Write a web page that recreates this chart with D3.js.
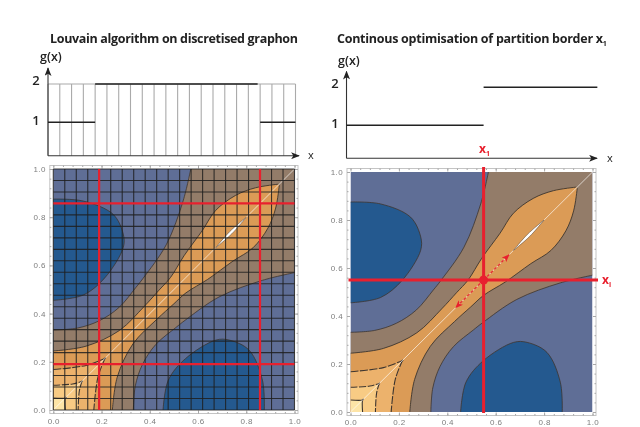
<!DOCTYPE html>
<html>
<head>
<meta charset="utf-8">
<script src="https://cdn.jsdelivr.net/npm/d3@7"></script>
<style>
html, body { margin: 0; padding: 0; background: #fff; }
svg { display: block; filter: blur(0.35px); }
text { font-family: "Open Sans", sans-serif; }
</style>
</head>
<body>
<div id="chart"></div>
<script>
// contour lines, upper half only, the lower half is the mirror image
var blobLine = [[0,0.875],[0.124,0.867],[0.248,0.812],[0.29,0.73],[0.29,0.674],[0.214,0.549],[0.124,0.477],[0,0.455]];
var brownLine = [[0,0.332],[0.1,0.34],[0.19,0.37],[0.272,0.425],[0.342,0.508],[0.372,0.546],[0.469,0.687],[0.538,0.867],[0.57,1]];
var orangeLine = [[0,0.245],[0.136,0.265],[0.274,0.33],[0.377,0.43],[0.438,0.497],[0.486,0.55],[0.542,0.64],[0.618,0.745],[0.673,0.828],[0.755,0.89],[0.838,0.922],[0.933,0.937]];
var level3Line = [[0,0.168],[0.136,0.185],[0.218,0.216]];
var level4Line = [[0,0.103],[0.08,0.108],[0.122,0.12]];
var level5Line = [[0,0.05],[0.05,0.05],[0.054,0.054]];
var lensLine = [[0.673,0.673],[0.731,0.74],[0.8,0.8]];

var bandColors = ["#5f6e96", "#24598f", "#937c69", "#db9b56", "#ecb26c", "#f8cb84", "#fde4a6"];

var gridCells = d3.range(0, 22);
var leftBorders = [0.19, 0.857];
var rightBorder = 0.55;
var arrowEnds = [0.655, 0.435];

var gLeftCells = [4, 18, 21];
var gLeftValues = [1, 2, 1];
var gRightEnds = [0.55, 1.02];
var gRightValues = [1, 2];
var gTicks = [1, 2];
var majorTicks = [0, 0.2, 0.4, 0.6, 0.8, 1];
var minorTicks = d3.range(0, 26).map(function (i) { return i / 25; });

var svg = d3.select("#chart").append("svg").attr("width", 640).attr("height", 427);

var defs = svg.append("defs");
defs.append("marker").attr("id", "blackHead").attr("viewBox", "0 0 10 8").attr("refX", 9).attr("refY", 4)
.attr("markerUnits", "userSpaceOnUse").attr("markerWidth", 9).attr("markerHeight", 7).attr("orient", "auto")
.append("path").attr("d", "M0,0L10,4L0,8L2.5,4Z").attr("fill", "#222");
defs.append("marker").attr("id", "redHead").attr("viewBox", "0 0 10 8").attr("refX", 9).attr("refY", 4)
.attr("markerUnits", "userSpaceOnUse").attr("markerWidth", 8).attr("markerHeight", 7).attr("orient", "auto")
.append("path").attr("d", "M0,0L10,4L0,8L2.5,4Z").attr("fill", "#e8202e");

function mirror(pts) {
	return pts.map(function (p) { return [p[1], p[0]]; }).reverse();
}

function drawContours(g, x, y, id) {
	var line = d3.line().x(function (d) { return x(d[0]); }).y(function (d) { return y(d[1]); }).curve(d3.curveCatmullRom.alpha(0.5));
	// two curves joined at a sharp corner
	function joined(a, b, extra) {
		var s = line(a) + "L" + line(b).slice(1);
		(extra || []).forEach(function (p) { s += "L" + x(p[0]) + "," + y(p[1]); });
		return s + "Z";
	}
	var contour = "#3d352f";

	defs.append("clipPath").attr("id", id).append("rect")
	.attr("x", x(0)).attr("y", y(1)).attr("width", x(1) - x(0)).attr("height", y(0) - y(1));
	var c = g.append("g").attr("clip-path", "url(#" + id + ")");

	c.append("rect").attr("x", x(0)).attr("y", y(1)).attr("width", x(1) - x(0)).attr("height", y(0) - y(1)).attr("fill", bandColors[0]);

	[blobLine, mirror(blobLine)].forEach(function (b) {
		c.append("path").attr("d", line(b)).attr("fill", bandColors[1]).attr("stroke", contour).attr("stroke-width", 0.8);
	});

	c.append("path")
	.attr("d", line(brownLine) + "L" + x(1) + "," + y(1) + "L" + line(mirror(brownLine)).slice(1) + "L" + x(0) + "," + y(0) + "Z")
	.attr("fill", bandColors[2]);
	[brownLine, mirror(brownLine)].forEach(function (b) {
		c.append("path").attr("d", line(b)).attr("fill", "none").attr("stroke", contour).attr("stroke-width", 0.8);
	});

	[[orangeLine, 3, "none", 0.9], [level3Line, 4, "8 1.5", 1.1], [level4Line, 5, "7 1.5", 1.1], [level5Line, 6, "none", 1.1]].forEach(function (l) {
		c.append("path").attr("d", joined(l[0], mirror(l[0]), [[0, 0]])).attr("fill", bandColors[l[1]]);
		[l[0], mirror(l[0])].forEach(function (b) {
			c.append("path").attr("d", line(b)).attr("fill", "none").attr("stroke", contour)
			.attr("stroke-width", l[3]).attr("stroke-dasharray", l[2]);
		});
	});

	// the diagonal
	c.append("line").attr("x1", x(0)).attr("y1", y(0)).attr("x2", x(1)).attr("y2", y(1))
	.attr("stroke", "#fff").attr("stroke-opacity", 0.65).attr("stroke-width", 1);
	c.append("path").attr("d", joined(lensLine, mirror(lensLine))).attr("fill", "#fff").attr("stroke", "#4a3d30").attr("stroke-width", 0.5);
}

function drawFrame(g, x, y, pad, labelPad) {
	var left = x(0) - pad, right = x(1) + pad, top = y(1) - pad, bottom = y(0) + pad;
	var fmt = d3.format(".1f");

	function style(a) {
		a.select(".domain").remove();
		a.selectAll("line").attr("stroke", "#a8a8a8");
		a.selectAll("text").attr("fill", "#7d7d7d").style("font-size", "8px").style("font-family", "'Liberation Sans', sans-serif").style("letter-spacing", "0.4px");
	}

	g.append("rect").attr("x", left).attr("y", top).attr("width", right - left).attr("height", bottom - top)
	.attr("fill", "none").attr("stroke", "#c4c4c4").attr("stroke-width", 1);

	[[d3.axisBottom(x), bottom, 0], [d3.axisTop(x), top, 0], [d3.axisLeft(y), 0, left], [d3.axisRight(y), 0, right]].forEach(function (a, i) {
		var showLabels = i == 0 || i == 2;
		var place = "translate(" + a[2] + "," + a[1] + ")";
		g.append("g").attr("transform", place)
		.call(a[0].tickValues(minorTicks).tickSize(-1.5).tickFormat(""))
		.call(style);
		g.append("g").attr("transform", place)
		.call(a[0].tickValues(majorTicks).tickSize(-3).tickPadding(i == 0 ? labelPad : 4).tickFormat(showLabels ? fmt : ""))
		.call(style);
	});
}

function axisArrows(g, x0, y0, xEnd, yEnd) {
	g.append("line").attr("x1", x0).attr("y1", y0).attr("x2", xEnd).attr("y2", y0)
	.attr("stroke", "#333").attr("stroke-width", 1.1).attr("marker-end", "url(#blackHead)");
	g.append("line").attr("x1", x0).attr("y1", y0).attr("x2", x0).attr("y2", yEnd)
	.attr("stroke", "#333").attr("stroke-width", 1.1).attr("marker-end", "url(#blackHead)");
}

function gLabels(g, yG, xLabel, xAxisLabel, yAxisLabel) {
	gTicks.forEach(function (t) {
		g.append("text").attr("x", xLabel).attr("y", yG(t) + (t == 2 ? 1 : 3)).attr("text-anchor", "middle")
		.attr("font-size", 13).attr("font-weight", 600).attr("fill", "#222").text(t);
	});
	g.append("text").attr("x", xAxisLabel[0]).attr("y", xAxisLabel[1]).attr("font-size", 11).attr("font-weight", 400).attr("fill", "#222").text("x");
	g.append("text").attr("x", yAxisLabel[0]).attr("y", yAxisLabel[1]).attr("font-size", 12.5).attr("font-weight", 600).attr("fill", "#222").text("g(x)");
}

/* left panel */
var left = svg.append("g");
left.append("text").attr("x", 50).attr("y", 43).attr("font-size", 12.5).attr("font-weight", 700).attr("fill", "#222")
.attr("textLength", 248).text("Louvain algorithm on discretised graphon");

var xTopL = d3.scaleLinear().domain([0, 21]).range([48, 295.5]);
var yTopL = d3.scaleLinear().domain([0, 1, 2]).range([155.7, 122.3, 84]);

left.selectAll(".cell").data(gridCells).enter().append("line").attr("class", "cell")
.attr("x1", function (d) { return xTopL(d); }).attr("x2", function (d) { return xTopL(d); })
.attr("y1", yTopL(0)).attr("y2", yTopL(2)).attr("stroke", "#aaa").attr("stroke-width", 1.1);
left.append("line").attr("x1", xTopL(0)).attr("x2", xTopL(21)).attr("y1", yTopL(2)).attr("y2", yTopL(2))
.attr("stroke", "#aaa").attr("stroke-width", 1.1);

axisArrows(left, xTopL(0), yTopL(0), 299, 68);
gLeftValues.forEach(function (v, i) {
	var start = i == 0 ? 0 : gLeftCells[i - 1];
	left.append("line").attr("x1", xTopL(start)).attr("x2", xTopL(gLeftCells[i]) - (i == 1 ? 2.5 : 0))
	.attr("y1", yTopL(v)).attr("y2", yTopL(v)).attr("stroke", "#222").attr("stroke-width", 1.4);
});
gLabels(left, yTopL, 36, [308, 159], [40, 61]);

var xL = d3.scaleLinear().domain([0, 1]).range([53.3, 294.5]);
var yL = d3.scaleLinear().domain([0, 1]).range([410, 169]);
drawFrame(left, xL, yL, 3.5, 5);
drawContours(left, xL, yL, "clipLeft");

var grid = left.append("g").attr("stroke", "#1e1e1e").attr("stroke-opacity", 0.85).attr("stroke-width", 1.1);
grid.selectAll(".v").data(gridCells).enter().append("line").attr("class", "v")
.attr("x1", function (d) { return xL(d / 21); }).attr("x2", function (d) { return xL(d / 21); })
.attr("y1", yL(0)).attr("y2", yL(1));
grid.selectAll(".h").data(gridCells).enter().append("line").attr("class", "h")
.attr("x1", xL(0)).attr("x2", xL(1))
.attr("y1", function (d) { return yL(d / 21); }).attr("y2", function (d) { return yL(d / 21); });

leftBorders.forEach(function (b) {
	left.append("line").attr("x1", xL(b)).attr("x2", xL(b)).attr("y1", yL(0)).attr("y2", yL(1)).attr("stroke", "#e8202e").attr("stroke-width", 2.2);
	left.append("line").attr("x1", xL(0)).attr("x2", xL(1)).attr("y1", yL(b)).attr("y2", yL(b)).attr("stroke", "#e8202e").attr("stroke-width", 2.2);
});

/* right panel */
var right = svg.append("g");
var xR = d3.scaleLinear().domain([0, 1]).range([350.5, 592.5]);
var yR = d3.scaleLinear().domain([0, 1]).range([412, 172]);
var yTopR = d3.scaleLinear().domain([0, 1, 2]).range([158.3, 125.3, 87.3]);

var title = right.append("text").attr("x", 337).attr("y", 43).attr("font-size", 12.5).attr("font-weight", 700).attr("fill", "#222");
title.append("tspan").attr("textLength", 266).text("Continous optimisation of partition border x");
title.append("tspan").attr("font-size", 7).attr("dy", 3).text("1");

axisArrows(right, xR(-0.0165), yTopR(0), 597, 71.5);
gRightValues.forEach(function (v, i) {
	right.append("line").attr("x1", i == 0 ? xR(-0.0165) : xR(gRightEnds[0])).attr("x2", xR(gRightEnds[i]))
	.attr("y1", yTopR(v)).attr("y2", yTopR(v)).attr("stroke", "#222").attr("stroke-width", 1.4);
});
gLabels(right, yTopR, 335, [607, 162], [338, 65]);

var x1Label = right.append("text").attr("x", 479).attr("y", 153).attr("font-size", 12).attr("font-weight", 700).attr("fill", "#e8202e");
x1Label.append("tspan").text("x");
x1Label.append("tspan").attr("font-size", 7).attr("dy", 3).text("1");

drawFrame(right, xR, yR, 3.5, 3.5);
drawContours(right, xR, yR, "clipRight");

right.append("line").attr("x1", xR(rightBorder)).attr("x2", xR(rightBorder)).attr("y1", 167).attr("y2", yR(0) + 1)
.attr("stroke", "#e8202e").attr("stroke-width", 3);
right.append("line").attr("x1", xR(0) - 2).attr("x2", 598).attr("y1", yR(rightBorder)).attr("y2", yR(rightBorder))
.attr("stroke", "#e8202e").attr("stroke-width", 3);
arrowEnds.forEach(function (e) {
	right.append("line").attr("x1", xR(rightBorder)).attr("y1", yR(rightBorder)).attr("x2", xR(e)).attr("y2", yR(e))
	.attr("stroke", "#e8202e").attr("stroke-width", 1.2).attr("stroke-dasharray", "3 2").attr("marker-end", "url(#redHead)");
});
right.append("circle").attr("cx", xR(rightBorder)).attr("cy", yR(rightBorder)).attr("r", 4.5).attr("fill", "#e8202e");

var xiLabel = right.append("text").attr("x", 602).attr("y", 284).attr("font-size", 12).attr("font-weight", 700).attr("fill", "#e8202e");
xiLabel.append("tspan").text("x");
xiLabel.append("tspan").attr("font-size", 7).attr("dy", 3).text("i");
</script>
</body>
</html>
